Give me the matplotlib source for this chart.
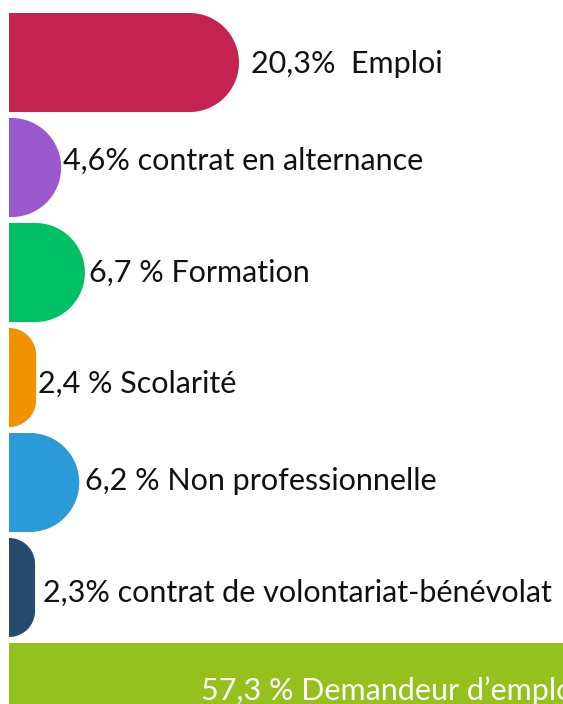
import numpy as np
import matplotlib
matplotlib.use("Agg")
import matplotlib.pyplot as plt
from matplotlib.patches import Polygon

values = [20.3, 4.6, 6.7, 2.4, 6.2, 2.3, 57.3]
labels = ["20,3%  Emploi", "4,6% contrat en alternance", "6,7 % Formation",
          "2,4 % Scolarité", "6,2 % Non professionnelle",
          "2,3% contrat de volontariat-bénévolat", "57,3 % Demandeur d\u2019emploi"]
colors = ["#C42251", "#9B59D0", "#00C065", "#F39200", "#2A9AD9", "#264B6E", "#95C11F"]

W, H, DPI = 563, 704, 100
fig = plt.figure(figsize=(W / DPI, H / DPI), dpi=DPI)
ax = fig.add_axes([0, 0, 1, 1])
ax.set_axis_off()

px_per_unit = 11.33   # pixels per percent
x0_px = 9
pitch = 105.0         # pixels between bar centres
first_c = 62.5
bar_h = 0.943         # in category units

ax.set_xlim(-x0_px / px_per_unit, (W - x0_px) / px_per_unit)
ax.set_ylim((H - first_c) / pitch, -first_c / pitch)

label_dx_px = [12, 2, 4, 2, 6, 8]
label_dy_px = [2, -7, 0, 6, -2, 5]
FS = 22

for i, (v, lab, col) in enumerate(zip(values, labels, colors)):
    w_px = v * px_per_unit
    r_px = min(bar_h * pitch / 2, w_px)
    rx = r_px / px_per_unit
    ry = r_px / pitch
    top, bot = i - bar_h / 2, i + bar_h / 2
    t = np.linspace(0, np.pi / 2, 30)
    pts = [(0, top), (v - rx, top)]
    pts += list(zip(v - rx + rx * np.sin(t), top + ry - ry * np.cos(t)))
    pts += list(zip(v - rx + rx * np.cos(t), bot - ry + ry * np.sin(t)))
    pts += [(v - rx, bot), (0, bot)]
    ax.add_patch(Polygon(pts, closed=True, facecolor=col, edgecolor="none"))
    if i < len(values) - 1:
        ax.text(v + label_dx_px[i] / px_per_unit, i + label_dy_px[i] / pitch, lab,
                ha="left", va="center", fontsize=FS, family="Lato", color="#111111")
    else:
        ax.text(v / 2 + 57 / px_per_unit, i - 2 / pitch, lab, ha="center", va="center",
                fontsize=FS, family="Lato", color="white")

fig.savefig("out.png", dpi=DPI, facecolor="white")
